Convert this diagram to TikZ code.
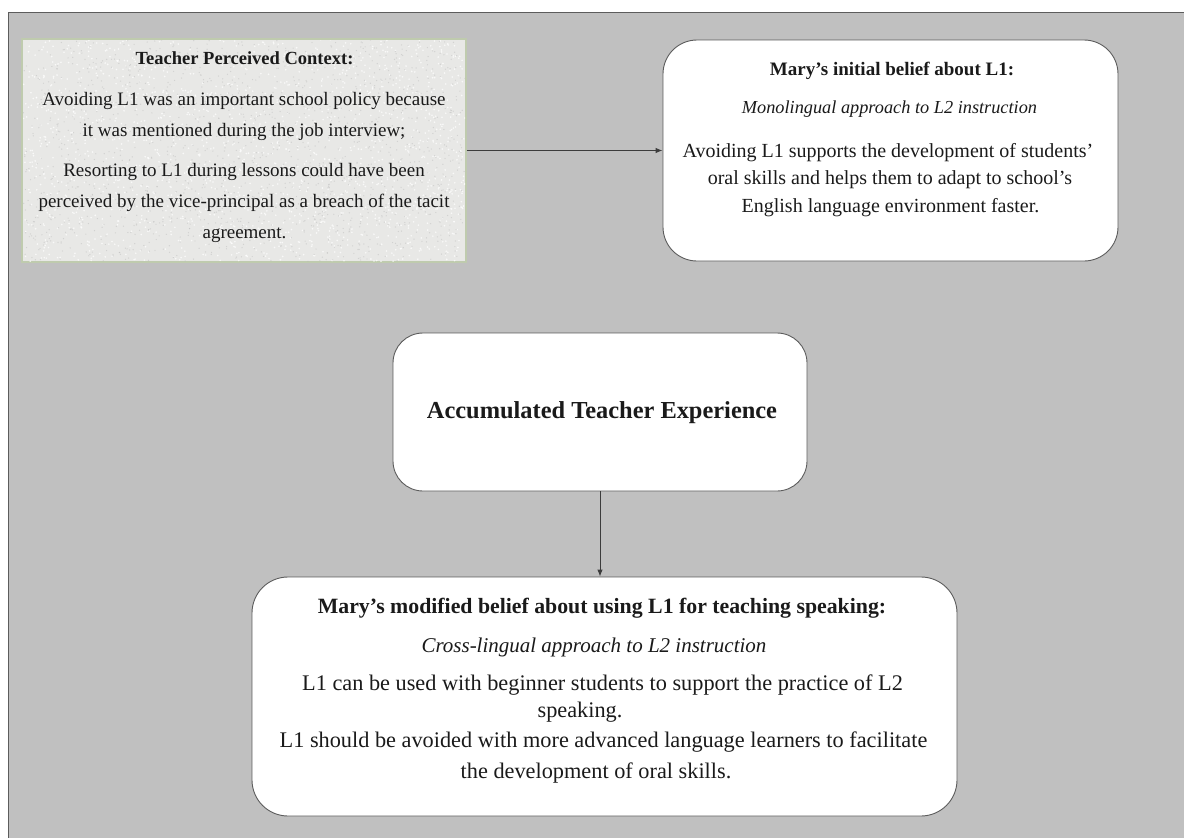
\documentclass[tikz,border=0pt]{standalone}
\usepackage{fontspec}
\setmainfont{Liberation Serif}
\usetikzlibrary{arrows.meta}
\definecolor{panel}{HTML}{C0C0C0}
\definecolor{edge}{HTML}{5C5C5C}
\definecolor{granite}{HTML}{E8E8E6}
\definecolor{graniteedge}{HTML}{BFCBAE}
\definecolor{ink}{HTML}{1A1A1A}
\tikzset{
  belief/.style={draw=edge, line width=0.9pt, fill=white, rounded corners=#1, inner sep=0pt},
  contextbox/.style={draw=graniteedge, line width=1.2pt, fill=granite, inner sep=0pt},
  heading/.style={anchor=base, text=ink, font=\bfseries\fontsize{#1}{#1}\selectfont},
  approach/.style={anchor=base, text=ink, font=\itshape\fontsize{#1}{#1}\selectfont},
  body/.style={anchor=base, text=ink, font=\fontsize{#1}{#1}\selectfont},
  link/.style={draw=ink!85, line width=0.9pt, -{Latex[length=7pt,width=5.5pt]}},
}
\begin{document}
\begin{tikzpicture}[x=1pt, y=-1pt]
\useasboundingbox (0,0) rectangle (1184,838);
% grey panel with its left and top rules
\fill[panel] (8,12) rectangle (1184,838);
\draw[edge, line width=1pt] (8,838) -- (8,12) -- (1184,12);

% context box with a granite-like fill
\node[contextbox, minimum width=444pt, minimum height=223pt] (context) at (244,150.5) {};
\begin{scope}
  \clip (23,40) rectangle (465,261);
  \pgfmathsetseed{11}
  \foreach \i in {1,...,1800}
    \fill[white, opacity=0.75] (244+221*rand, 150.5+111*rand) circle (0.9);
  \foreach \i in {1,...,1500}
    \fill[gray!55, opacity=0.45] (244+221*rand, 150.5+111*rand) circle (0.7);
\end{scope}

% belief and experience boxes
\node[belief=34pt, minimum width=455pt, minimum height=221pt] (initial) at (890.5,150.5) {};
\node[belief=30pt, minimum width=414pt, minimum height=158pt] (experience) at (600,412) {};
\node[belief=36pt, minimum width=705pt, minimum height=239pt] (modified) at (604.5,696.5) {};

% connectors
\draw[link] (context.east) -- (initial.west);
\draw[link] (experience.south) -- (experience.south |- modified.north);

% context text
\node[heading=18.5] (ctxhead) at (244.5,64) {Teacher Perceived Context:};
\node[body=19] (ctxa) at (244,105) {Avoiding L1 was an important school policy because};
\node[body=19] (ctxb) at (244,136) {it was mentioned during the job interview;};
\node[body=19] (ctxc) at (244,176) {Resorting to L1 during lessons could have been};
\node[body=19] (ctxd) at (244,207) {perceived by the vice-principal as a breach of the tacit};
\node[body=19] (ctxe) at (244.5,238) {agreement.};

% initial belief text
\node[heading=19] (inihead) at (892,75) {Mary’s initial belief about L1:};
\node[approach=18.3] (iniapp) at (889.5,113) {Monolingual approach to L2 instruction};
\node[body=20] (inia) at (888,157) {Avoiding L1 supports the development of students’};
\node[body=20] (inib) at (890,184) {oral skills and helps them to adapt to school’s};
\node[body=20] (inic) at (890.5,212) {English language environment faster.};

% experience text
\node[heading=24.4] (exphead) at (602,418) {Accumulated Teacher Experience};

% modified belief text
\node[heading=21.8] (modhead) at (602,613) {Mary’s modified belief about using L1 for teaching speaking:};
\node[approach=21] (modapp) at (594,652) {Cross-lingual approach to L2 instruction};
\node[body=22.3] (moda) at (602.5,690) {L1 can be used with beginner students to support the practice of L2};
\node[body=22.3] (modb) at (580,717) {speaking.};
\node[body=22.3] (modc) at (603.5,747) {L1 should be avoided with more advanced language learners to facilitate};
\node[body=22.3] (modd) at (596,778) {the development of oral skills.};
\end{tikzpicture}
\end{document}
